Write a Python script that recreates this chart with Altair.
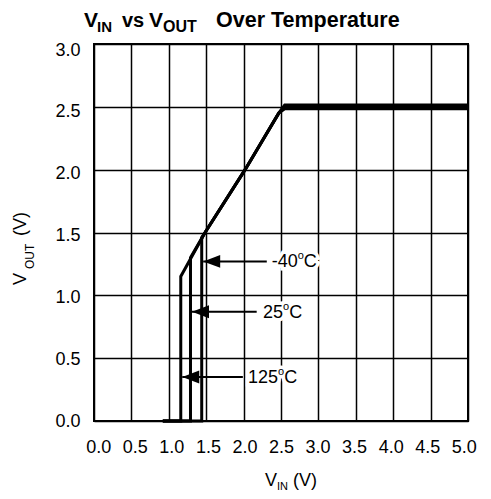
import altair as alt
import pandas as pd

FONT = "Liberation Sans"

# ---- curve data (V_IN, V_OUT) per temperature ----
VIN_125 = [0.92, 1.16, 1.16, 1.485, 2.02, 2.47, 2.55, 5.0]
VOUT_125 = [0.0, 0.0, 1.15, 1.50, 2.00, 2.45, 2.485, 2.485]
VIN_25 = [0.92, 1.29, 1.29, 1.485, 2.02, 2.47, 2.55, 5.0]
VOUT_25 = [0.0, 0.0, 1.30, 1.50, 2.00, 2.45, 2.50, 2.50]
VIN_M40 = [0.92, 1.44, 1.44, 1.485, 2.02, 2.47, 2.55, 5.0]
VOUT_M40 = [0.0, 0.0, 1.46, 1.50, 2.00, 2.45, 2.515, 2.515]

# ---- annotation data ----
ANN_TEMPS = ["-40", "25", "125"]
ANN_TIP_X = [1.46, 1.31, 1.18]
ANN_Y = [1.27, 0.87, 0.35]
ANN_LINE_END = [2.31, 2.175, 1.99]
ANN_TEXT_X = [2.375, 2.26, 2.06]

X_TICKS = [0.0, 0.5, 1.0, 1.5, 2.0, 2.5, 3.0, 3.5, 4.0, 4.5, 5.0]
Y_TICKS = [0.0, 0.5, 1.0, 1.5, 2.0, 2.5, 3.0]

TITLE_PARTS = ["V", "IN", "vs", "V", "OUT", "Over Temperature"]
XTITLE_PARTS = ["V", "IN", "(V)"]
YTITLE_PARTS = ["V", "OUT", "(V)"]

rows = []
for name, xv, yv in [("125", VIN_125, VOUT_125), ("25", VIN_25, VOUT_25), ("-40", VIN_M40, VOUT_M40)]:
    for i, (a, b) in enumerate(zip(xv, yv)):
        rows.append({"temp": name, "i": i, "vin": a, "vout": b})
curves = pd.DataFrame(rows)

ann = pd.DataFrame({
    "temp": ANN_TEMPS, "tip": ANN_TIP_X, "y": ANN_Y,
    "end": ANN_LINE_END, "tx": ANN_TEXT_X,
})

xs = alt.Scale(domain=[0, 5], nice=False)
ys = alt.Scale(domain=[0, 3], nice=False)

# slight label offsets as in the reference print
x_off = {"condition": [{"test": f"abs(datum.value - {v}) < 0.01", "value": round((2.5 - v) * 1.7, 1)} for v in X_TICKS], "value": 0}
y_off = {"condition": [{"test": f"abs(datum.value - {v}) < 0.01", "value": round(v * 2.0, 1)} for v in Y_TICKS], "value": 0}

AX = alt.Axis(values=X_TICKS, format=".1f", title=None, labelOffset=x_off,
              labelOverlap=False, labelFlush=False, labelBound=False)
AY = alt.Axis(values=Y_TICKS, format=".1f", title=None, labelOffset=y_off,
              labelOverlap=False, labelFlush=False, labelBound=False)

XE = lambda f: alt.X(f, scale=xs, axis=AX)
YE = lambda f: alt.Y(f, scale=ys, axis=AY)

base = alt.Chart(curves).mark_line(strokeWidth=3, color="black", strokeJoin="miter").encode(
    x=XE("vin:Q"), y=YE("vout:Q"), detail="temp:N", order="i:Q",
)

ann_base = alt.Chart(ann)
arrow_line = ann_base.mark_rule(strokeWidth=2, color="black").encode(
    x=XE("tip:Q"), x2="end:Q", y=YE("y:Q")
)
arrow_head = ann_base.mark_point(
    shape="M -1 0 L 1 -0.76 L 1 0.76 Z", size=289, filled=True, color="black",
    opacity=1, xOffset=8.5,
).encode(x=XE("tip:Q"), y=YE("y:Q"))

# number widths at 18px Liberation Sans (digit .556em, hyphen .333em)
num_w = [(0.333 + 0.556 * 2) * 18, 0.556 * 2 * 18, 0.556 * 3 * 18]

def label_layer(sub, expr, halo, **kw):
    if halo:
        kw.update(stroke="white", strokeWidth=7, color="white")
    else:
        kw.update(color="black")
    return alt.Chart(sub).transform_calculate(lbl=expr).mark_text(
        align="left", baseline="middle", font=FONT, **kw
    ).encode(x=XE("tx:Q"), y=YE("y:Q"), text="lbl:N")

halo_layers, text_layers = [], []
for halo, dest in ((True, halo_layers), (False, text_layers)):
    dest.append(label_layer(ann, "datum.temp", halo, fontSize=18, dy=1))
    for k, t in enumerate(ANN_TEMPS):
        sub = ann[ann.temp == t]
        dest.append(label_layer(sub, "'o'", halo, fontSize=11, dx=num_w[k], dy=-5))
        dest.append(label_layer(sub, "'C'", halo, fontSize=18, dx=num_w[k] + 6.2, dy=1))

def one(text, x, y, size, bold=False, angle=0):
    return alt.Chart(alt.Data(values=[{"t": text}])).mark_text(
        align="left", baseline="alphabetic", font=FONT, fontSize=size,
        fontWeight="bold" if bold else "normal", angle=angle, color="black",
    ).encode(text="t:N", x=alt.value(x), y=alt.value(y))

# title and axis titles (with subscripts)
TY = -17
title = [
    one(TITLE_PARTS[0], -10, TY, 21, True),
    one(TITLE_PARTS[1], 3, TY + 5, 15, True),
    one(TITLE_PARTS[2], 28, TY, 20, True),
    one(TITLE_PARTS[3], 55, TY, 21, True),
    one(TITLE_PARTS[4], 69, TY + 5, 16, True),
    one(TITLE_PARTS[5], 122, TY, 21.5, True),
]
xtitle = [
    one(XTITLE_PARTS[0], 171, 442, 18),
    one(XTITLE_PARTS[1], 183, 446, 11),
    one(XTITLE_PARTS[2], 199, 442, 18),
]
ytitle = [
    one(YTITLE_PARTS[0], -68, 241, 18, angle=270),
    one(YTITLE_PARTS[1], -60, 225, 12, angle=270),
    one(YTITLE_PARTS[2], -68, 192, 18, angle=270),
]

chart = alt.layer(
    base, *halo_layers, arrow_line, arrow_head, *text_layers, *title, *xtitle, *ytitle
).properties(
    width=374, height=377,
    autosize=alt.AutoSizeParams(type="none"),
    padding={"left": 86, "top": 36, "right": 9, "bottom": 70},
).configure_view(
    stroke="black", strokeWidth=2,
).configure_axis(
    grid=True, gridColor="black", gridWidth=1.5, gridOpacity=1,
    domain=False, ticks=False, labelOverlap=False, labelFlush=False,
    labelFont=FONT, labelFontSize=18, labelColor="black",
).configure_axisX(labelPadding=17).configure_axisY(labelPadding=14)

chart.save("out.html", embed_options={"renderer": "svg", "actions": False})
